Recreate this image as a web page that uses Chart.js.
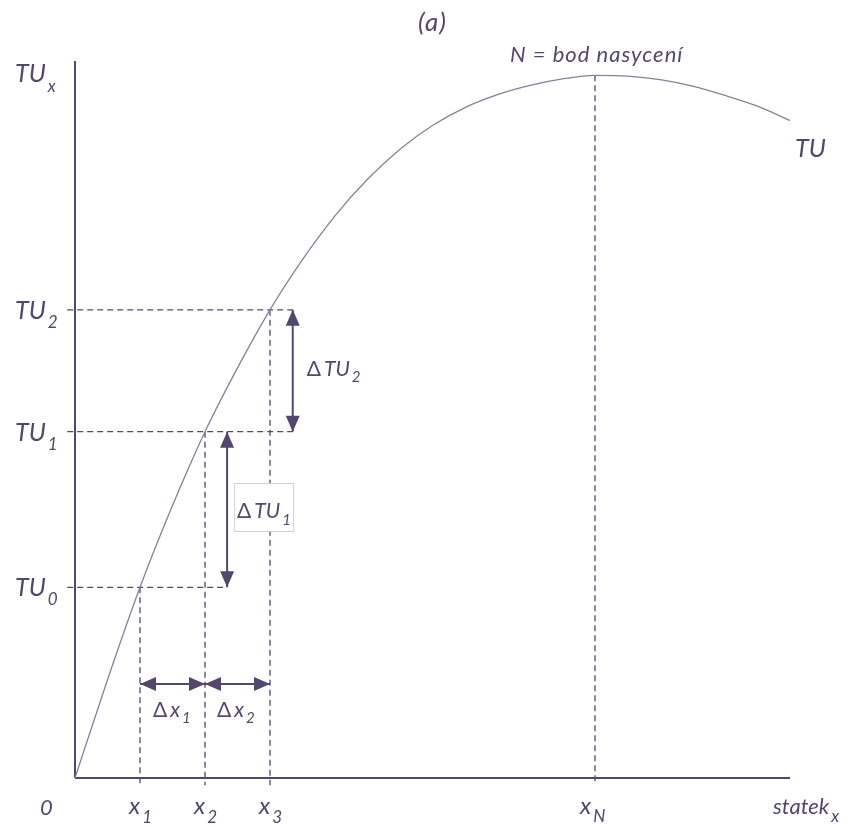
<!DOCTYPE html>
<html>
<head>
<meta charset="utf-8">
<script src="https://cdn.jsdelivr.net/npm/chart.js@4.4.1/dist/chart.umd.min.js"></script>
<style>
  body { margin: 0; background: #fff; }
  #wrap { width: 854px; height: 828px; }
</style>
</head>
<body>
<div id="wrap"><canvas id="myChart" width="854" height="828"></canvas></div>
<script>
// curve TU (quantity x in steps, utility 0..100)
var curveX = [0, 0.5, 1, 1.5, 2, 2.5, 3, 3.5, 4, 4.5, 5, 5.5, 6, 6.5, 7, 7.5, 8, 8.5, 9, 9.5, 10, 10.5, 11];
var curveY = [0, 13.7, 26.6, 38.0, 48.3, 57.2, 65.3, 72.3, 78.4, 83.5, 87.7, 91.0, 93.5, 95.3, 96.6, 97.5, 98.0, 97.9, 97.4, 96.5, 95.2, 93.7, 91.7];

// marked levels
var xLevels = [1, 2, 3];
var tuLevels = [26.6, 48.3, 65.3];
var xN = 8;
var tuN = 98.0;
var xMax = 11;
var yMax = 100;

// arrow positions
var dTuArrowX = [2.34, 3.35];
var dxArrowY = 13.1;

// texts
var yTickLabels = [["TU", "0"], ["TU", "1"], ["TU", "2"]];
var xTickLabels = [["x", "1"], ["x", "2"], ["x", "3"]];

var ink = "#51476f";
var font = "Lato";

function pts(xs, ys) {
  var out = [];
  for (var i = 0; i < xs.length; i++) out.push({x: xs[i], y: ys[i]});
  return out;
}

function dashed(a, b) {
  return {
    data: [a, b], borderColor: ink, borderWidth: 1.3, borderDash: [6, 4],
    pointRadius: 0, clip: false, tension: 0
  };
}

function solid(a, b, w) {
  return {
    data: [a, b], borderColor: ink, borderWidth: w, pointRadius: 0, clip: false, tension: 0
  };
}

function buildDatasets() {
  var ds = [];
  // curve
  ds.push({
    data: pts(curveX, curveY), borderColor: "#86809a", borderWidth: 1.3,
    pointRadius: 0, cubicInterpolationMode: "monotone", clip: false
  });
  // axes
  ds.push(solid({x: 0, y: 0}, {x: 0, y: yMax}, 2));
  ds.push(solid({x: 0, y: 0}, {x: xMax, y: 0}, 2));
  // horizontal guides
  var hEnd = [dTuArrowX[0], dTuArrowX[1], dTuArrowX[1]];
  for (var i = 0; i < tuLevels.length; i++) {
    ds.push(dashed({x: -0.12, y: tuLevels[i]}, {x: hEnd[i], y: tuLevels[i]}));
  }
  // vertical guides
  for (var j = 0; j < xLevels.length; j++) {
    ds.push(dashed({x: xLevels[j], y: tuLevels[j]}, {x: xLevels[j], y: -1}));
  }
  ds.push(dashed({x: xN, y: tuN}, {x: xN, y: -1}));
  // arrow shafts
  ds.push(solid({x: dTuArrowX[0], y: tuLevels[0]}, {x: dTuArrowX[0], y: tuLevels[1]}, 2));
  ds.push(solid({x: dTuArrowX[1], y: tuLevels[1]}, {x: dTuArrowX[1], y: tuLevels[2]}, 2));
  ds.push(solid({x: xLevels[0], y: dxArrowY}, {x: xLevels[1], y: dxArrowY}, 2));
  ds.push(solid({x: xLevels[1], y: dxArrowY}, {x: xLevels[2], y: dxArrowY}, 2));
  return ds;
}

function head(ctx, tx, ty, dir) {
  // tip at (tx,ty)
  var L = 16, W = 7;
  ctx.beginPath();
  ctx.moveTo(tx, ty);
  if (dir == "up") { ctx.lineTo(tx - W, ty + L); ctx.lineTo(tx + W, ty + L); }
  if (dir == "down") { ctx.lineTo(tx - W, ty - L); ctx.lineTo(tx + W, ty - L); }
  if (dir == "left") { ctx.lineTo(tx + L, ty - W); ctx.lineTo(tx + L, ty + W); }
  if (dir == "right") { ctx.lineTo(tx - L, ty - W); ctx.lineTo(tx - L, ty + W); }
  ctx.closePath();
  ctx.fill();
}

function subText(ctx, main, sub, x, y, size, subSize, drop) {
  ctx.font = "italic " + size + "px " + font;
  ctx.fillText(main, x, y);
  var w = ctx.measureText(main).width;
  ctx.font = "italic " + subSize + "px " + font;
  ctx.fillText(sub, x + w + 2, y + drop);
}

function deltaText(ctx, main, sub, x, y, size, subSize, drop) {
  ctx.font = size + "px " + font;
  ctx.fillText("\u0394", x, y);
  var w = ctx.measureText("\u0394").width;
  subText(ctx, main, sub, x + w + 3, y, size, subSize, drop);
}

var decor = {
  id: "decor",
  afterDatasetsDraw: function(chart) {
    var ctx = chart.ctx;
    var xs = chart.scales.x, ys = chart.scales.y;
    var px = function(v) { return xs.getPixelForValue(v); };
    var py = function(v) { return ys.getPixelForValue(v); };
    ctx.save();
    ctx.fillStyle = ink;

    // arrow heads
    head(ctx, px(dTuArrowX[0]), py(tuLevels[1]), "up");
    head(ctx, px(dTuArrowX[0]), py(tuLevels[0]), "down");
    head(ctx, px(dTuArrowX[1]), py(tuLevels[2]), "up");
    head(ctx, px(dTuArrowX[1]), py(tuLevels[1]), "down");
    head(ctx, px(xLevels[0]), py(dxArrowY), "left");
    head(ctx, px(xLevels[1]), py(dxArrowY), "right");
    head(ctx, px(xLevels[1]), py(dxArrowY), "left");
    head(ctx, px(xLevels[2]), py(dxArrowY), "right");

    // ΔTU1 box
    var bx = px(dTuArrowX[0]) + 7, by = 483;
    ctx.fillStyle = "#fff";
    ctx.fillRect(bx, by, 59, 48);
    ctx.strokeStyle = "#d2d2d2";
    ctx.lineWidth = 1;
    ctx.strokeRect(bx + 0.5, by + 0.5, 59, 48);
    ctx.fillStyle = ink;

    ctx.textBaseline = "alphabetic";
    ctx.textAlign = "left";
    deltaText(ctx, "TU", "1", bx + 3, 518, 21, 15, 7);
    deltaText(ctx, "TU", "2", px(dTuArrowX[1]) + 14, 376, 21, 15, 6);
    deltaText(ctx, "x", "1", px(xLevels[0]) + 13, 717, 21, 15, 6);
    deltaText(ctx, "x", "2", px(xLevels[1]) + 12, 717, 21, 15, 6);

    // y labels
    subText(ctx, "TU", "x", 15, 82, 25, 17, 10);
    for (var i = 0; i < tuLevels.length; i++) {
      subText(ctx, yTickLabels[i][0], yTickLabels[i][1], 15, py(tuLevels[i]) + 9, 25, 17, 9);
    }
    // x labels
    ctx.font = "italic 22px " + font;
    ctx.fillText("0", 40, 815);
    for (var j = 0; j < xLevels.length; j++) {
      subText(ctx, xTickLabels[j][0], xTickLabels[j][1], px(xLevels[j]) - 11, 814, 24, 17, 9);
    }
    subText(ctx, "x", "N", px(xN) - 15, 814, 24, 17, 8);
    subText(ctx, "statek", "x", 773, 814, 22, 17, 8);

    // curve labels
    ctx.font = "italic 25px " + font;
    ctx.fillText("TU", 795, 157);
    ctx.font = "italic 22px " + font;
    ctx.letterSpacing = "1px";
    ctx.fillText("N = bod nasycen\u00ed", 510, 62);
    ctx.font = "italic 26px " + font;
    ctx.fillText("(a)", 418, 31);
    ctx.letterSpacing = "0px";
    ctx.restore();
  }
};

function getChart() {
  var ctx = document.getElementById("myChart").getContext("2d");
  var chart = new Chart(ctx, {
    type: "line",
    data: { datasets: buildDatasets() },
    options: {
      responsive: false,
      animation: false,
      events: [],
      layout: { padding: { left: 75, right: 64, top: 61, bottom: 50 } },
      plugins: { legend: { display: false }, tooltip: { enabled: false } },
      scales: {
        x: { type: "linear", min: 0, max: xMax, display: false },
        y: { type: "linear", min: 0, max: yMax, display: false }
      }
    },
    plugins: [decor]
  });
}

getChart();
</script>
</body>
</html>
